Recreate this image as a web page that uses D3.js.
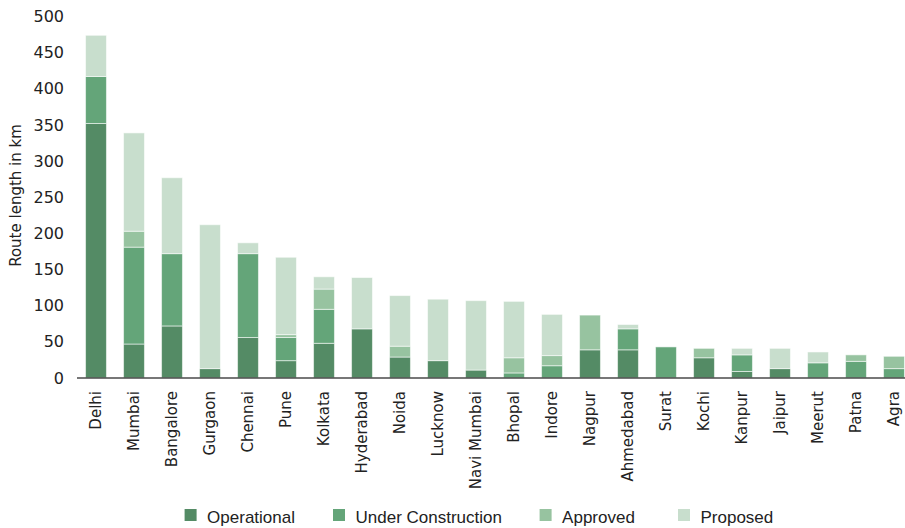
<!DOCTYPE html>
<html>
<head>
<meta charset="utf-8">
<script src="https://cdn.jsdelivr.net/npm/d3@7"></script>
<style>
  html, body { margin: 0; padding: 0; background: #fff; }
  svg { display: block; }
</style>
</head>
<body>
<svg id="chart" width="905" height="528"></svg>
<script>
// Metro rail route length by city (km), split by project status
const cities = ["Delhi", "Mumbai", "Bangalore", "Gurgaon", "Chennai", "Pune", "Kolkata",
  "Hyderabad", "Noida", "Lucknow", "Navi Mumbai", "Bhopal", "Indore", "Nagpur",
  "Ahmedabad", "Surat", "Kochi", "Kanpur", "Jaipur", "Meerut", "Patna", "Agra"];
const operational       = [352, 47, 72, 13, 56, 24, 48, 68, 29, 24, 11, 0, 0, 39, 39, 0, 28, 9, 13, 0, 0, 0];
const underConstruction = [65, 134, 100, 0, 116, 32, 47, 0, 0, 0, 0, 7, 17, 0, 29, 43, 0, 23, 0, 21, 23, 13];
const approved          = [0, 22, 0, 0, 0, 4, 28, 0, 15, 0, 0, 21, 14, 48, 0, 0, 13, 0, 0, 0, 9, 17];
const proposed          = [57, 136, 105, 199, 15, 107, 17, 71, 70, 85, 96, 78, 57, 0, 6, 0, 0, 9, 28, 15, 0, 0];

const seriesNames = ["Operational", "Under Construction", "Approved", "Proposed"];
const seriesColors = ["#548b65", "#64a579", "#97c3a0", "#c8decd"];
const yTicks = [0, 50, 100, 150, 200, 250, 300, 350, 400, 450, 500];

const seriesValues = [operational, underConstruction, approved, proposed];
const rows = cities.map((c, i) => {
  const r = { city: c };
  seriesNames.forEach((s, k) => { r[s] = seriesValues[k][i]; });
  return r;
});

const svg = d3.select("#chart");
const plotLeft = 77, plotRight = 913, plotTop = 16.5, plotBottom = 378;

const x = d3.scaleBand().domain(cities).range([plotLeft, plotRight])
  .paddingInner(0.45).paddingOuter(0.225);
const y = d3.scaleLinear().domain([0, 500]).range([plotBottom, plotTop]);
const color = d3.scaleOrdinal().domain(seriesNames).range(seriesColors);

const stacked = d3.stack().keys(seriesNames)(rows);

// Stacked bars
svg.append("g").selectAll("g")
  .data(stacked)
  .join("g")
    .attr("fill", d => color(d.key))
  .selectAll("rect")
  .data(d => d.filter(p => p[1] - p[0] > 0))
  .join("rect")
    .attr("x", d => x(d.data.city))
    .attr("width", x.bandwidth())
    .attr("y", d => y(d[1]))
    .attr("height", d => y(d[0]) - y(d[1]))
    .attr("stroke", "rgba(255,255,255,0.55)")
    .attr("stroke-width", 1);

// Y axis (labels only)
const yAxis = svg.append("g")
  .attr("transform", `translate(${plotLeft},0)`)
  .call(d3.axisLeft(y).tickValues(yTicks).tickSize(0).tickPadding(13));
yAxis.select(".domain").remove();
yAxis.selectAll("text")
  .attr("font-family", "DejaVu Sans")
  .attr("font-size", 16)
  .attr("fill", "#222");

// Baseline
svg.append("line")
  .attr("x1", plotLeft).attr("x2", 905)
  .attr("y1", y(0)).attr("y2", y(0))
  .attr("stroke", "#4a4a4a").attr("stroke-width", 1.6);

// X axis category labels (rotated)
const xAxis = svg.append("g")
  .attr("transform", `translate(0,${plotBottom})`)
  .call(d3.axisBottom(x).tickSize(0).tickPadding(0));
xAxis.select(".domain").remove();
xAxis.selectAll("text")
  .attr("font-family", "DejaVu Sans")
  .attr("font-size", 15)
  .attr("fill", "#222")
  .attr("text-anchor", "end")
  .attr("dy", "0.35em")
  .attr("transform", "translate(0,13) rotate(-90)")
  .attr("y", 0)
  .attr("x", 0);

// Y axis title
svg.append("text")
  .attr("transform", `translate(21,${(123 + 268) / 2}) rotate(-90)`)
  .attr("text-anchor", "middle")
  .attr("font-family", "DejaVu Sans")
  .attr("font-size", 15)
  .attr("fill", "#222")
  .text("Route length in km");

// Legend: swatch + label, one item per series
const legendX = [184.6, 333, 539.6, 678];
const legend = svg.append("g").attr("transform", "translate(0,509)");
seriesNames.forEach((name, i) => {
  const g = legend.append("g").attr("transform", `translate(${legendX[i]},0)`);
  g.append("rect").attr("width", 12).attr("height", 12).attr("fill", color(name));
  g.append("text")
    .attr("x", 22.5).attr("y", 13.5)
    .attr("font-family", "Liberation Sans")
    .attr("font-size", 17)
    .attr("fill", "#222")
    .text(name);
});
</script>
</body>
</html>
